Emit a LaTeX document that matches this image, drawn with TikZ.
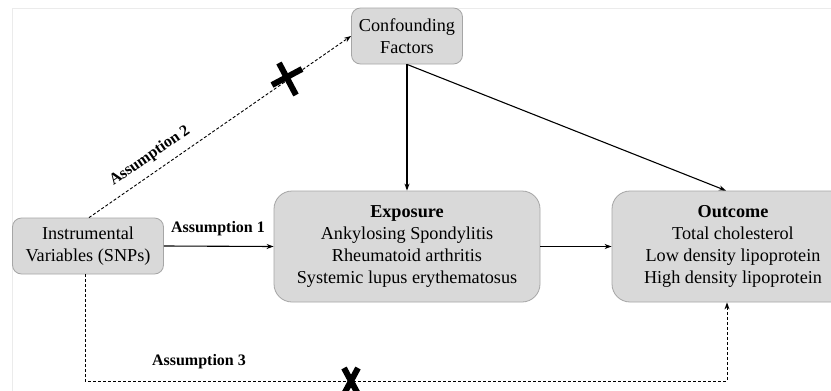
\documentclass[tikz,border=0pt]{standalone}
\usepackage{fontspec}
\setmainfont{Liberation Serif}
\usetikzlibrary{arrows.meta}
\definecolor{boxfill}{HTML}{D9D9D9}
\definecolor{boxline}{HTML}{A6A6A6}
\begin{document}
\begin{tikzpicture}[x=1pt,y=-1pt,
  box/.style={draw=boxline, fill=boxfill, line width=0.8pt, align=center, inner sep=0pt,
    font=\fontsize{18.2}{22}\selectfont},
  arr/.style={line width=1.1pt, -{Stealth[length=7pt,width=5pt]}},
  darr/.style={line width=0.9pt, dash pattern=on 3pt off 2pt, -{Stealth[length=7pt,width=5pt]}},
  xbar/.style={line width=6pt},
  lab/.style={font=\bfseries\fontsize{16}{19}\selectfont, inner sep=0pt}]
\useasboundingbox (0,0) rectangle (831,391);
\fill[white] (0,0) rectangle (831,391);
\draw[black!8, line width=0.8pt] (12,391) -- (12,8) -- (831,8);
\node[box, minimum width=111pt, minimum height=56pt, rounded corners=9pt] (conf) at (407,36) {Confounding\\Factors};
\node[box, minimum width=151pt, minimum height=56pt, rounded corners=9pt] (iv) at (88,246) {Instrumental\\Variables (SNPs)};
\node[box, minimum width=266pt, minimum height=111pt, rounded corners=18pt] (exp) at (407,246.5) {\textbf{Exposure}\\Ankylosing Spondylitis\\Rheumatoid arthritis\\Systemic lupus erythematosus};
\node[box, minimum width=242pt, minimum height=111pt, rounded corners=18pt] (out) at (733,246.5) {\textbf{Outcome}\\Total cholesterol\\Low density lipoprotein\\High density lipoprotein};
\draw[arr] (iv.east) -- (exp.west);
\draw[arr] (exp.east) -- (out.west);
\draw[arr] (conf.south) -- (exp.north);
\draw[arr] (conf.south) -- ([xshift=-7pt]out.north);
\draw[darr] ([xshift=1pt]iv.north) -- (conf.west);
\coordinate (b) at (400,381);
\draw[darr] ([xshift=-3pt]iv.south) |- (b) -| ([xshift=-6pt]out.south);
\node[lab] (a1) at (218,229) {Assumption 1};
\node[lab, rotate=34.6] (a2) at (150,156) {Assumption 2};
\node[lab] (a3) at (199,362) {Assumption 3};
\draw[xbar] (279,63) -- (296,95);
\draw[xbar] (272,85) -- (302,69);
\draw[xbar] (344,368) -- (358,394);
\draw[xbar] (358,368) -- (344,394);
\end{tikzpicture}
\end{document}
